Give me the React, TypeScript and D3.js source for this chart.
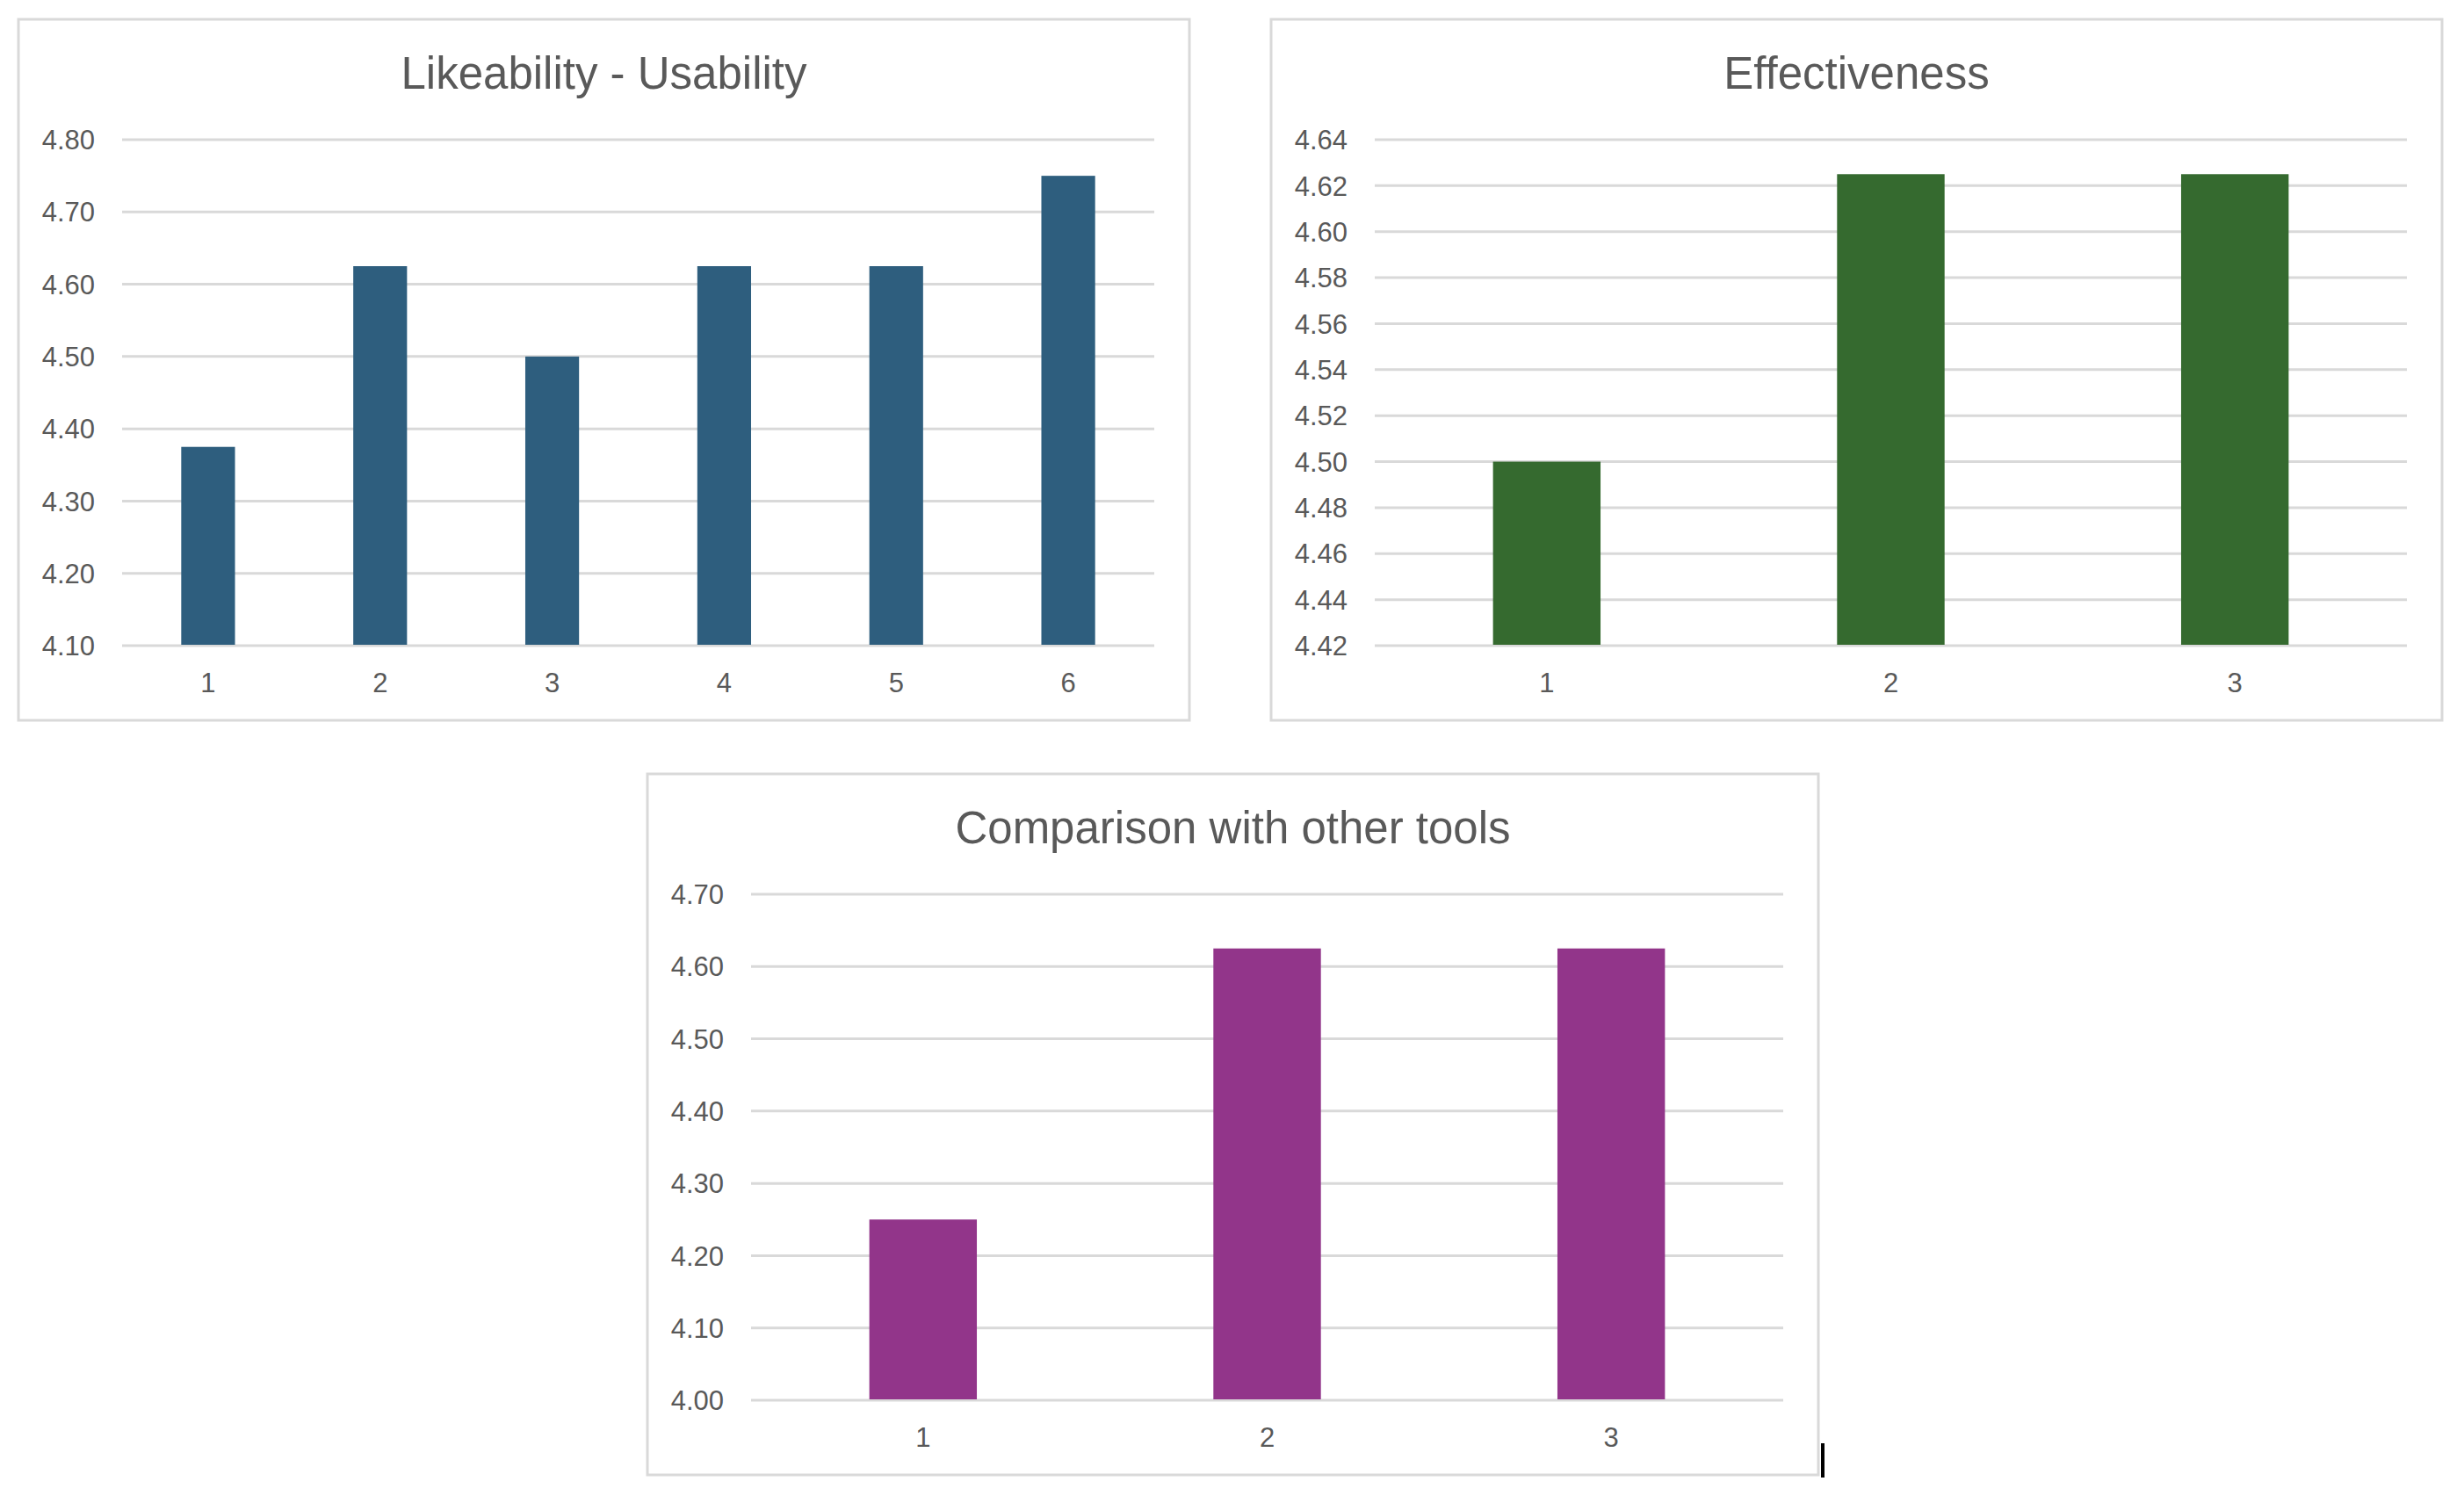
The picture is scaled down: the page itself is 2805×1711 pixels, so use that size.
import React from "react";
import * as d3 from "d3";

// ---------- data ----------
const likeCategories = ["1", "2", "3", "4", "5", "6"];
const likeValues = [4.375, 4.625, 4.5, 4.625, 4.625, 4.75];
const likeTicks = [4.1, 4.2, 4.3, 4.4, 4.5, 4.6, 4.7, 4.8];

const effCategories = ["1", "2", "3"];
const effValues = [4.5, 4.625, 4.625];
const effTicks = [4.42, 4.44, 4.46, 4.48, 4.5, 4.52, 4.54, 4.56, 4.58, 4.6, 4.62, 4.64];

const compCategories = ["1", "2", "3"];
const compValues = [4.25, 4.625, 4.625];
const compTicks = [4.0, 4.1, 4.2, 4.3, 4.4, 4.5, 4.6, 4.7];

const W = 2805;
const H = 1711;
const FONT = "'Liberation Sans', Arial, sans-serif";
const TEXT = "#595959";
const GRID = "#d9d9d9";

type PanelProps = {
  x: number;
  y: number;
  title: string;
  categories: string[];
  values: number[];
  ticks: number[];
  color: string;
};

const FW = 1333;
const FH = 798;
const PL = 118;
const PR = 40;
const PT = 137;
const PB = 85;

function Panel({ x, y, title, categories, values, ticks, color }: PanelProps) {
  const left = x + PL;
  const right = x + FW - PR;
  const top = y + PT;
  const bottom = y + FH - PB;
  const gap = 0.6875;
  const xs = d3
    .scaleBand<string>()
    .domain(categories)
    .range([left, right])
    .paddingInner(gap)
    .paddingOuter(gap / 2);
  const ys = d3
    .scaleLinear()
    .domain([ticks[0], ticks[ticks.length - 1]])
    .range([bottom, top]);
  const fmt = d3.format(".2f");
  const step = xs.step();
  return (
    <g>
      <rect x={x} y={y} width={FW} height={FH} fill="#fff" stroke={GRID} strokeWidth={3} />
      <text
        x={x + FW / 2}
        y={y + 79}
        textAnchor="middle"
        fontFamily={FONT}
        fontSize={51}
        fill={TEXT}
      >
        {title}
      </text>
      {ticks.map((t) => (
        <g key={t}>
          <line x1={left} x2={right} y1={ys(t)} y2={ys(t)} stroke={GRID} strokeWidth={3} />
          <text
            x={left - 31}
            y={ys(t)}
            dy="0.36em"
            textAnchor="end"
            fontFamily={FONT}
            fontSize={31}
            fill={TEXT}
          >
            {fmt(t)}
          </text>
        </g>
      ))}
      {categories.map((c, i) => (
        <g key={c}>
          <rect
            x={xs(c)!}
            y={ys(values[i])}
            width={xs.bandwidth()}
            height={ys(ticks[0]) - ys(values[i]) - 1}
            fill={color}
          />
          <text
            x={(xs(c) as number) + xs.bandwidth() / 2}
            y={bottom + 42}
            dy="0.36em"
            textAnchor="middle"
            fontFamily={FONT}
            fontSize={31}
            fill={TEXT}
          >
            {c}
          </text>
        </g>
      ))}
    </g>
  );
}

export default function App() {
  return (
    <svg
      width={W}
      height={H}
      viewBox={`0 0 ${W} ${H}`}
      style={{ position: "absolute", left: 0, top: 0, background: "#fff" }}
    >
      <rect x={0} y={0} width={W} height={H} fill="#fff" />
      <Panel
        x={21}
        y={22}
        title="Likeability - Usability"
        categories={likeCategories}
        values={likeValues}
        ticks={likeTicks}
        color="#2E5E7E"
      />
      <Panel
        x={1447}
        y={22}
        title="Effectiveness"
        categories={effCategories}
        values={effValues}
        ticks={effTicks}
        color="#356A2F"
      />
      <Panel
        x={737}
        y={881}
        title="Comparison with other tools"
        categories={compCategories}
        values={compValues}
        ticks={compTicks}
        color="#92358A"
      />
      <rect x={2073} y={1643} width={4} height={39} fill="#000" />
    </svg>
  );
}
